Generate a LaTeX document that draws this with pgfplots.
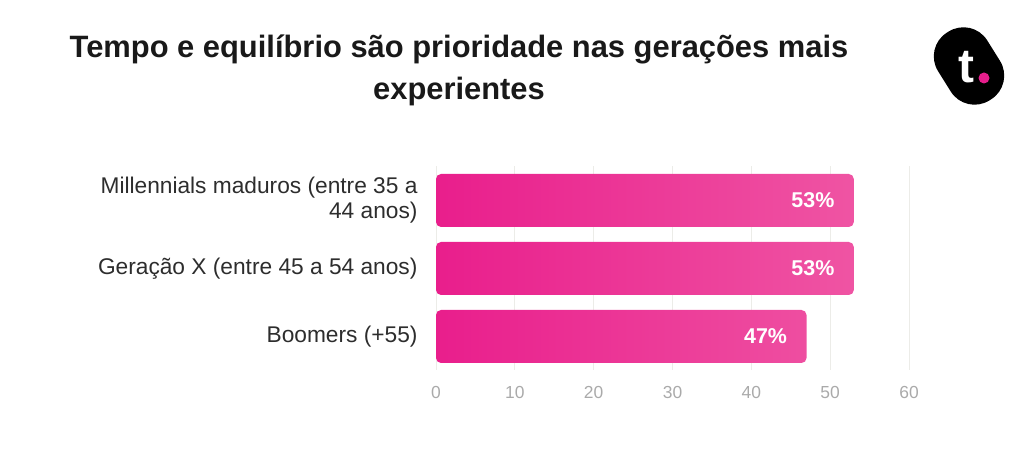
\documentclass[border=0pt]{standalone}
\usepackage{pgfplots}
\pgfplotsset{compat=1.18}
\usepackage{fontspec}
\setmainfont{Liberation Sans}
\definecolor{barL}{RGB}{233,30,140}
\definecolor{barR}{RGB}{239,84,163}
\definecolor{labelc}{RGB}{45,45,45}
\definecolor{tickc}{RGB}{170,170,170}
\definecolor{gridc}{RGB}{236,236,232}
\definecolor{dotc}{RGB}{230,30,140}

\pgfplotstableread{
y   value
0   53
1   53
2   47
}\sharetable

\begin{document}
\begin{tikzpicture}[x=1bp,y=1bp]
\useasboundingbox (0,0) rectangle (1024,470);

% title
\node[anchor=base, font=\bfseries\fontsize{31}{36}\selectfont, text=black!90] at (459,412) {Tempo e equilíbrio são prioridade nas gerações mais};
\node[anchor=base, font=\bfseries\fontsize{31}{36}\selectfont, text=black!90] at (459,370) {experientes};

% logo
\node[fill=black, rounded corners=28bp, minimum width=80bp, minimum height=58bp, rotate=-58, inner sep=0pt] at (969,404) {};
\node[font=\bfseries\fontsize{48}{48}\selectfont, text=white, anchor=base] at (966,387) {t};
\fill[dotc] (984,392) circle (5.5);

\begin{axis}[
  at={(436bp,99.5bp)}, anchor=south west,
  scale only axis, width=473bp, height=204bp,
  xmin=0, xmax=60, ymin=-0.5, ymax=2.5,
  y dir=reverse,
  xbar, bar width=53bp,
  axis line style={draw=none},
  major tick length=0pt,
  xtick={0,10,...,60},
  xmajorgrids, grid style={gridc, line width=0.8pt},
  ytick={0,1,2},
  yticklabels={{Millennials maduros (entre 35 a\\44 anos)},{Geração X (entre 45 a 54 anos)},{Boomers (+55)}},
  yticklabel style={align=right, font=\fontsize{22.8}{25}\selectfont, text=labelc, xshift=-15bp},
  xticklabel style={font=\fontsize{17.5}{20}\selectfont, text=tickc, yshift=-12bp},
  /pgf/number format/assume math mode=true,
  nodes near coords={\pgfmathprintnumber{\pgfplotspointmeta}\%},
  point meta=explicit,
  every node near coord/.append style={anchor=east, xshift=-16bp, text=white, font=\bfseries\fontsize{21.5}{24}\selectfont},
  clip=false,
]
\addplot[draw=none, left color=barL, right color=barR, rounded corners=5bp]
  table[x=value, y=y, meta=value] {\sharetable};
\end{axis}
\end{tikzpicture}
\end{document}
